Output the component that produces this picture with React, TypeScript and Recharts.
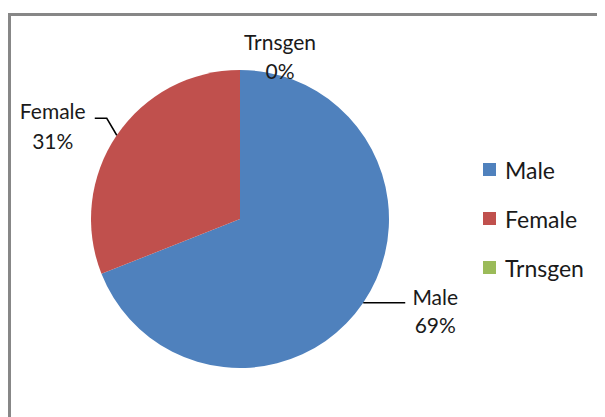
import React from "react";
import { PieChart, Pie, Cell, Legend } from "recharts";

const categories = ["Male", "Female", "Trnsgen"];
const values = [69, 31, 0];
const colors = ["#4F81BD", "#C0504D", "#9BBB59"];

const data = categories.map((name, i) => ({ name, value: values[i] }));

const RADIAN = Math.PI / 180;
const textColor = "#1a1a1a";
const fontFamily = "Lato, 'Liberation Sans', sans-serif";

function renderLabel(props: any) {
  const { cx, cy, midAngle, outerRadius, name, percent } = props;
  const cos = Math.cos(-midAngle * RADIAN);
  const sin = Math.sin(-midAngle * RADIAN);
  const ex = cx + outerRadius * cos;
  const ey = cy + outerRadius * sin;
  const pct = `${Math.round(percent * 100)}%`;

  let tx = ex;
  let ty1 = ey;
  let ty2 = ey;
  let line: string | null = null;

  if (Math.abs(cos) < 0.3) {
    // top slice, label sits above the pie
    tx = ex + 40;
    ty1 = ey - 29;
    ty2 = ey;
  } else if (cos > 0) {
    line = `M${ex},${ey}L${ex + 42},${ey}`;
    tx = ex + 72;
    ty1 = ey - 6;
    ty2 = ey + 22;
  } else {
    line = `M${ex},${ey}L${ex - 10},${ey - 17}L${ex - 22},${ey - 17}`;
    tx = ex - 64;
    ty1 = ey - 25;
    ty2 = ey + 5;
  }

  return (
    <g key={name}>
      {line && <path d={line} stroke="#000" strokeWidth={1.5} fill="none" />}
      <text
        x={tx}
        y={ty1}
        textAnchor="middle"
        dominantBaseline="central"
        fill={textColor}
        fontSize={21}
        fontFamily={fontFamily}
      >
        {name}
      </text>
      <text
        x={tx}
        y={ty2}
        textAnchor="middle"
        dominantBaseline="central"
        fill={textColor}
        fontSize={21}
        fontFamily={fontFamily}
      >
        {pct}
      </text>
    </g>
  );
}

function renderLegend() {
  return (
    <div>
      {categories.map((name, i) => (
        <div
          key={name}
          style={{ height: 49, display: "flex", alignItems: "center" }}
        >
          <span
            style={{
              width: 13,
              height: 13,
              background: colors[i],
              display: "inline-block",
              marginRight: 9,
            }}
          />
          <span style={{ fontSize: 23, fontFamily, color: textColor }}>
            {name}
          </span>
        </div>
      ))}
    </div>
  );
}

export default function App() {
  return (
    <div
      style={{
        position: "relative",
        width: 597,
        height: 409,
        overflow: "hidden",
        background: "#fff",
      }}
    >
      <div
        style={{
          position: "absolute",
          left: 0,
          top: 5,
          width: 700,
          height: 500,
          border: "3px solid #878787",
          boxSizing: "border-box",
        }}
      />
      <div style={{ position: "absolute", left: 0, top: 0 }}>
        <PieChart
          width={597}
          height={409}
          margin={{ top: 0, right: 0, bottom: 0, left: 0 }}
        >
          <Pie
            data={data}
            dataKey="value"
            nameKey="name"
            cx={232}
            cy={211}
            outerRadius={149}
            startAngle={90}
            endAngle={-270}
            stroke="none"
            label={renderLabel}
            labelLine={false}
            isAnimationActive={false}
          >
            {data.map((d, i) => (
              <Cell key={d.name} fill={colors[i]} />
            ))}
          </Pie>
          <Legend
            content={renderLegend}
            wrapperStyle={{ position: "absolute", left: 475, top: 137, width: 130 }}
          />
        </PieChart>
      </div>
    </div>
  );
}
